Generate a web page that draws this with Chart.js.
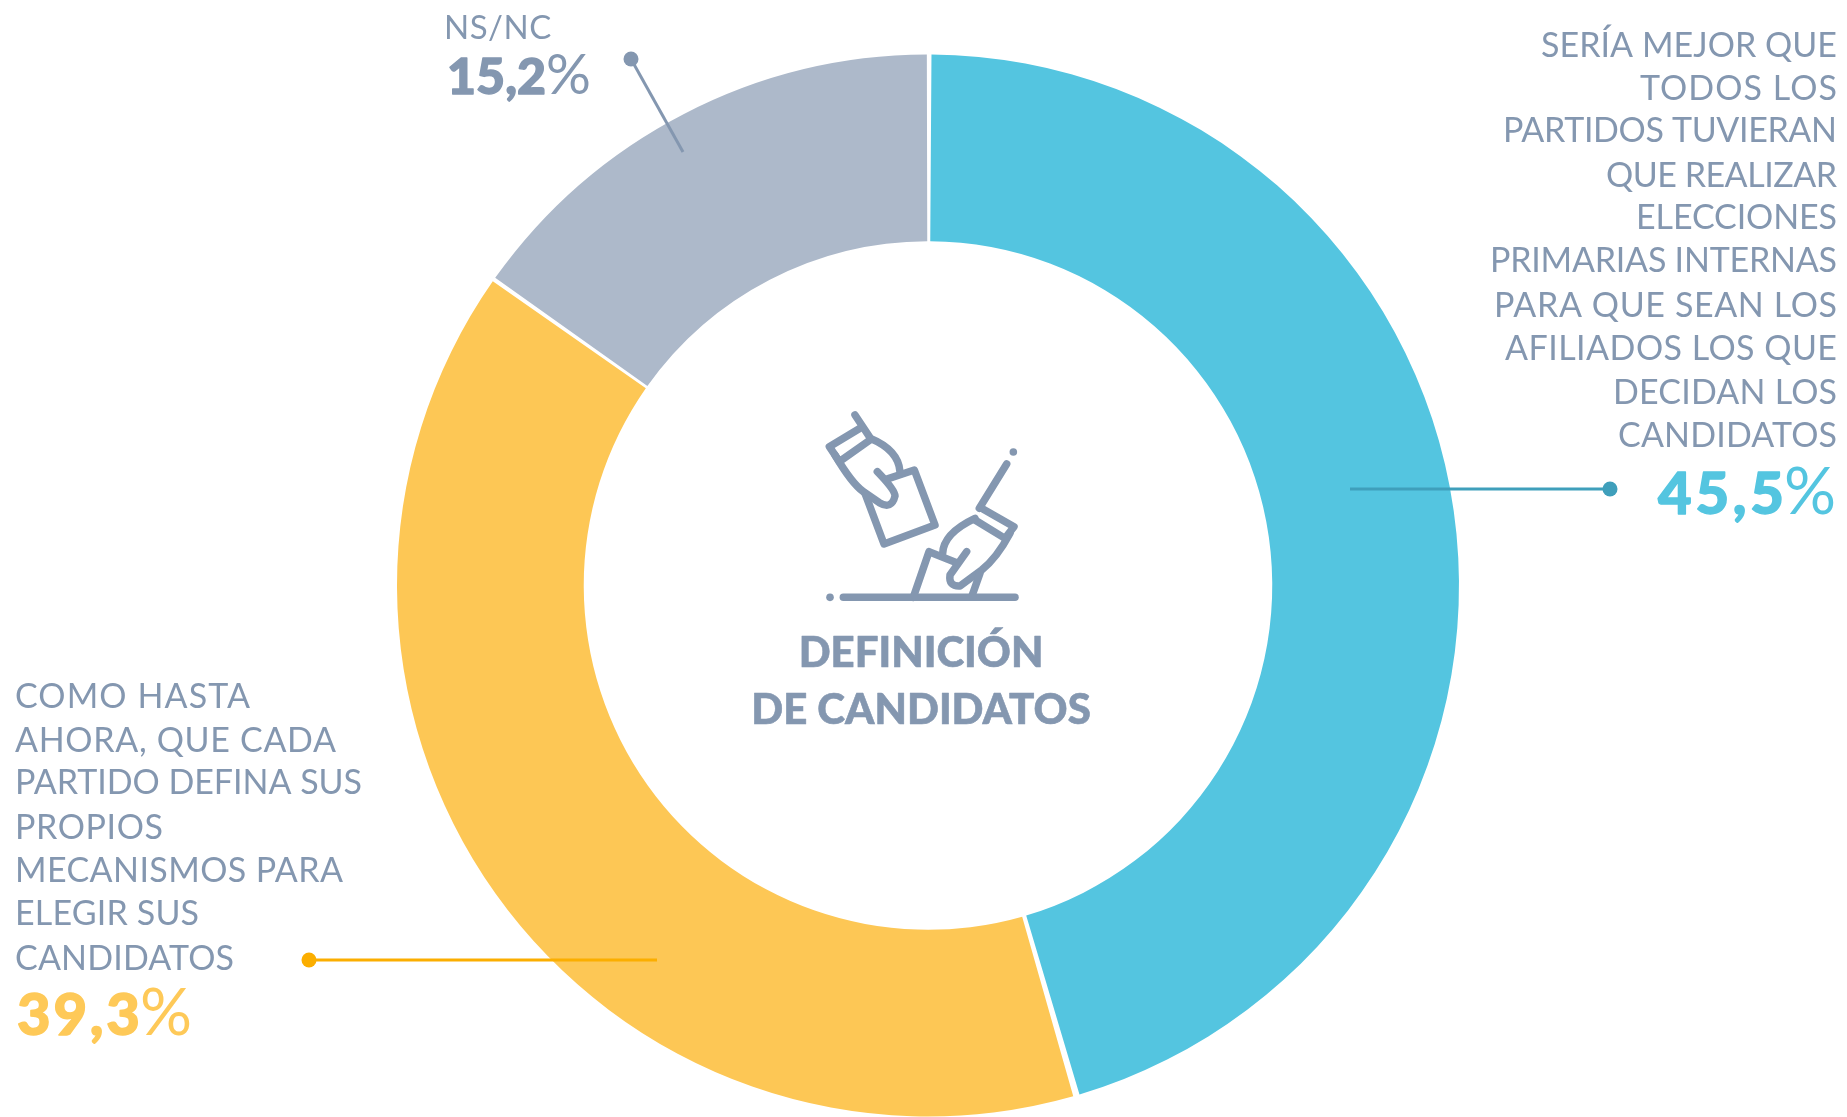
<!DOCTYPE html>
<html lang="es"><head><meta charset="utf-8">
<style>html,body{margin:0;padding:0;background:#fff;overflow:hidden}#w{position:relative;width:1847px;height:1117px}</style>
<script src="https://cdn.jsdelivr.net/npm/chart.js@4/dist/chart.umd.min.js"></script>
</head><body><div id="w"><canvas id="c" width="1847" height="1117"></canvas></div>
<script>
const categories = ["Sería mejor que todos los partidos tuvieran que realizar elecciones primarias internas para que sean los afiliados los que decidan los candidatos","Como hasta ahora, que cada partido defina sus propios mecanismos para elegir sus candidatos","NS/NC"];
const values = [45.5,39.3,15.2];
const sliceColors = ["#54C5E0","#FDC755","#ADB9CA"];
const percentLabels = ["45,5","39,3","15,2"];
const rightLines = ["SERÍA MEJOR QUE","TODOS LOS","PARTIDOS TUVIERAN","QUE REALIZAR","ELECCIONES","PRIMARIAS INTERNAS","PARA QUE SEAN LOS","AFILIADOS LOS QUE","DECIDAN LOS","CANDIDATOS"];
const leftLines = ["COMO HASTA","AHORA, QUE CADA","PARTIDO DEFINA SUS","PROPIOS","MECANISMOS PARA","ELEGIR SUS","CANDIDATOS"];
const titleLines = ["DEFINICIÓN","DE CANDIDATOS"];
const GREY="#8497B0";
const FONT='Lato, sans-serif';

function fitSpacing(ctx,s,font,width){
  ctx.font=font;ctx.letterSpacing="0px";
  return (width-ctx.measureText(s).width)/Math.max(s.length-1,1);
}
function txt(ctx,s,x,y,font,color,align,ls,bold){
  ctx.font=font;ctx.fillStyle=color;ctx.textAlign=align;ctx.textBaseline="alphabetic";ctx.letterSpacing=(ls||0)+"px";
  if(bold){ctx.strokeStyle=color;ctx.lineWidth=bold;ctx.lineJoin="round";ctx.strokeText(s,x,y);}
  ctx.fillText(s,x,y);ctx.letterSpacing="0px";
}
function pct(ctx,num,x0,x1,y,size,color){
  const b=`900 ${size}px ${FONT}`,r=`400 ${size*1.12}px ${FONT}`;
  ctx.font=r;ctx.letterSpacing="0px";const wr=ctx.measureText("%").width;
  const ls=fitSpacing(ctx,num,b,x1-x0-wr);
  txt(ctx,num,x0,y,b,color,"left",ls,1.4);txt(ctx,"%",x1-wr,y,r,color,"left",0);
}
function leader(ctx,x0,y0,x1,y1,color){
  ctx.strokeStyle=color;ctx.fillStyle=color;ctx.lineWidth=3;ctx.lineCap="butt";
  ctx.beginPath();ctx.moveTo(x0,y0);ctx.lineTo(x1,y1);ctx.stroke();
  ctx.beginPath();ctx.arc(x0,y0,7.5,0,Math.PI*2);ctx.fill();
}
function icon(ctx){
  const X=v=>780+v/3,Y=v=>390+v/3;
  ctx.strokeStyle=GREY;ctx.fillStyle=GREY;ctx.lineWidth=7.5;ctx.lineCap="round";ctx.lineJoin="round";
  const P=(...a)=>{ctx.beginPath();a.forEach((p,i)=>{if(p.length===2){i?ctx.lineTo(X(p[0]),Y(p[1])):ctx.moveTo(X(p[0]),Y(p[1]));}else{ctx.quadraticCurveTo(X(p[0]),Y(p[1]),X(p[2]),Y(p[3]));}});ctx.stroke();};
  P([225,75],[268,140]);
  P([245,112],[148,170],[178,215],[270,150]);
  P([165,195],[215,280,250,305],[298,338],[335,360,345,318],[345,300,292,245]);
  P([270,145],[355,180,360,245]);
  P([318,268],[403,240],[465,405],[312,462],[255,310]);
  P([680,222],[598,355]);
  P([610,358],[702,410],[675,445],[585,390]);
  P([690,430],[650,505,605,540],[540,588],[505,590,510,555],[560,485]);
  P([585,385],[490,430,488,490]);
  P([400,622],[447,485],[530,518]);
  P([600,550],[575,620]);
  ctx.lineWidth=7.5;P([190,622],[705,622]);
  ctx.beginPath();ctx.arc(X(150),Y(622),3.8,0,Math.PI*2);ctx.fill();
  ctx.beginPath();ctx.arc(X(700),Y(186),3.8,0,Math.PI*2);ctx.fill();
}
const overlay={id:"overlay",afterDraw(chart){
  const ctx=chart.ctx;ctx.save();
  leader(ctx,1610,489,1350,489,"#3F9FBB");
  leader(ctx,309,960,657,960,"#FBAE00");
  leader(ctx,631,59,683,152,GREY);
  const f=`400 34px ${FONT}`;
  const rBase=[57,100,142,187,229,272,317,360,404,447];
  const rLeft=[1541,1640,1503,1606,1636,1490,1494,1505,1613,1618];
  rightLines.forEach((s,i)=>{const ls=fitSpacing(ctx,s,f,1837-rLeft[i]);txt(ctx,s,rLeft[i],rBase[i],f,GREY,"left",ls);});
  const lBase=[708,752,794,839,882,925,970];
  const lRight=[250,336,362,163,343,199,234];
  leftLines.forEach((s,i)=>{const ls=fitSpacing(ctx,s,f,lRight[i]-15);txt(ctx,s,15,lBase[i],f,GREY,"left",ls);});
  txt(ctx,"NS/NC",444,39,`400 33px ${FONT}`,GREY,"left",0.5);
  pct(ctx,percentLabels[0],1658,1836,514,58,sliceColors[0]);
  pct(ctx,percentLabels[1],17,192,1035,58,"#FEC958");
  pct(ctx,percentLabels[2],447,591,94,50,GREY);
  icon(ctx);
  txt(ctx,titleLines[0],921,667,`900 42px ${FONT}`,GREY,"center",0,0.6);
  txt(ctx,titleLines[1],921,724,`900 42px ${FONT}`,GREY,"center",0,0.6);
  ctx.restore();
}};
new Chart(document.getElementById("c"),{
  type:"doughnut",
  data:{labels:categories,datasets:[{data:values,backgroundColor:sliceColors,borderWidth:0,spacing:4}]},
  options:{responsive:false,animation:false,cutout:"64.7%",rotation:0,
    layout:{padding:{left:397,right:388,top:54.5,bottom:0.5}},
    plugins:{legend:{display:false},tooltip:{enabled:false}}},
  plugins:[overlay]
});
</script></body></html>
